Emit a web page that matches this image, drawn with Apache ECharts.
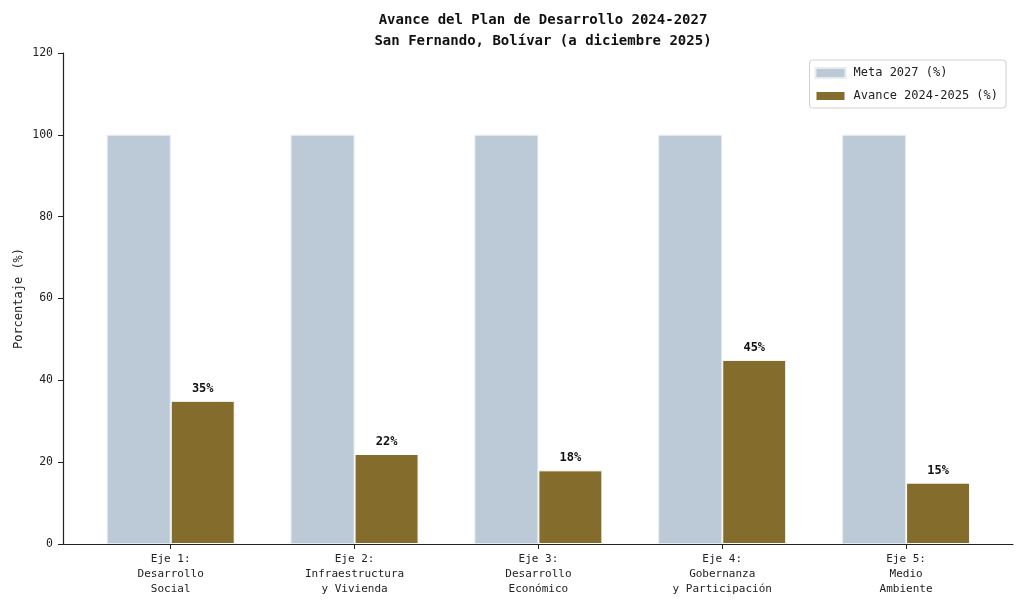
<!DOCTYPE html>
<html lang="es">
<head>
    <meta charset="UTF-8">
    <title>Avance del Plan de Desarrollo</title>
    <script src="https://cdn.jsdelivr.net/npm/echarts@6/dist/echarts.min.js"></script>
    <style>
        html, body { margin: 0; padding: 0; background: #fff; }
    </style>
</head>
<body>

<div id="chart_wrap" style="width: 1024px; height: 605px;"></div>

<script>
    var categories = [
        "Eje 1:\nDesarrollo\nSocial",
        "Eje 2:\nInfraestructura\ny Vivienda",
        "Eje 3:\nDesarrollo\nEconómico",
        "Eje 4:\nGobernanza\ny Participación",
        "Eje 5:\nMedio\nAmbiente"
    ];
    var meta_values = [100, 100, 100, 100, 100];
    var avance_values = [35, 22, 18, 45, 15];
    var series_names = ["Meta 2027 (%)", "Avance 2024-2025 (%)"];

    var font_mono = "'DejaVu Sans Mono', monospace";

    var myChart = echarts.init(document.getElementById("chart_wrap"));

    var option = {
        backgroundColor: "#fff",
        animation: false,
        textStyle: { fontFamily: font_mono, color: "#222" },
        title: {
            text: "Avance del Plan de Desarrollo 2024-2027\nSan Fernando, Bolívar (a diciembre 2025)",
            left: 538,
            textAlign: "center",
            top: 5,
            textStyle: {
                fontFamily: font_mono,
                fontSize: 14,
                fontWeight: "bold",
                lineHeight: 21,
                color: "#111"
            }
        },
        legend: {
            data: series_names,
            orient: "vertical",
            icon: "rect",
            right: 18,
            top: 60,
            itemWidth: 30,
            itemHeight: 10,
            itemGap: 11,
            padding: [7, 8, 6, 5],
            borderColor: "#d0d0d0",
            borderWidth: 1,
            borderRadius: 3,
            textStyle: { fontFamily: font_mono, fontSize: 12, color: "#222", padding: [0, 0, 0, 3] }
        },
        grid: [
            // full axes frame (spines and y ticks)
            { left: 63, right: 11, top: 53, bottom: 61 },
            // bar positions, inset like matplotlib margins
            { left: 78.8, right: 26, top: 53, bottom: 61 }
        ],
        xAxis: [
            {
                type: "value",
                gridIndex: 0,
                min: 0,
                max: 1,
                axisLine: { show: true, lineStyle: { color: "#222", width: 1.2 } },
                axisTick: { show: false },
                axisLabel: { show: false },
                splitLine: { show: false }
            },
            {
                type: "category",
                gridIndex: 1,
                data: categories,
                axisLine: { show: false },
                axisTick: {
                    show: true,
                    alignWithLabel: true,
                    length: 5,
                    lineStyle: { color: "#222", width: 1 }
                },
                axisLabel: {
                    fontFamily: font_mono,
                    fontSize: 11,
                    lineHeight: 15,
                    color: "#222",
                    margin: 8,
                    interval: 0
                }
            }
        ],
        yAxis: [
            {
                type: "value",
                gridIndex: 0,
                min: 0,
                max: 120,
                interval: 20,
                name: "Porcentaje (%)",
                nameLocation: "middle",
                nameGap: 38,
                nameMoveOverlap: false,
                nameTextStyle: { fontFamily: font_mono, fontSize: 12, color: "#222" },
                axisLine: { show: true, lineStyle: { color: "#222", width: 1.2 } },
                axisTick: { show: true, length: 5, lineStyle: { color: "#222" } },
                axisLabel: { fontFamily: font_mono, fontSize: 11.5, color: "#222", margin: 10 },
                splitLine: { show: false }
            },
            {
                type: "value",
                gridIndex: 1,
                min: 0,
                max: 120,
                show: false
            }
        ],
        series: [
            {
                name: series_names[0],
                type: "bar",
                xAxisIndex: 1,
                yAxisIndex: 1,
                data: meta_values,
                barWidth: 64,
                barGap: "0%",
                itemStyle: { color: "#bccad8", borderColor: "#e6ecf2", borderWidth: 1 }
            },
            {
                name: series_names[1],
                type: "bar",
                xAxisIndex: 1,
                yAxisIndex: 1,
                data: avance_values,
                barWidth: 64,
                barGap: "0%",
                itemStyle: { color: "#846d2c", borderColor: "#ffffff", borderWidth: 1 },
                label: {
                    show: true,
                    position: "top",
                    distance: 6,
                    formatter: "{c}%",
                    fontFamily: font_mono,
                    fontSize: 12,
                    fontWeight: "bold",
                    color: "#111"
                }
            }
        ]
    };

    myChart.setOption(option);
</script>
</body>
</html>
